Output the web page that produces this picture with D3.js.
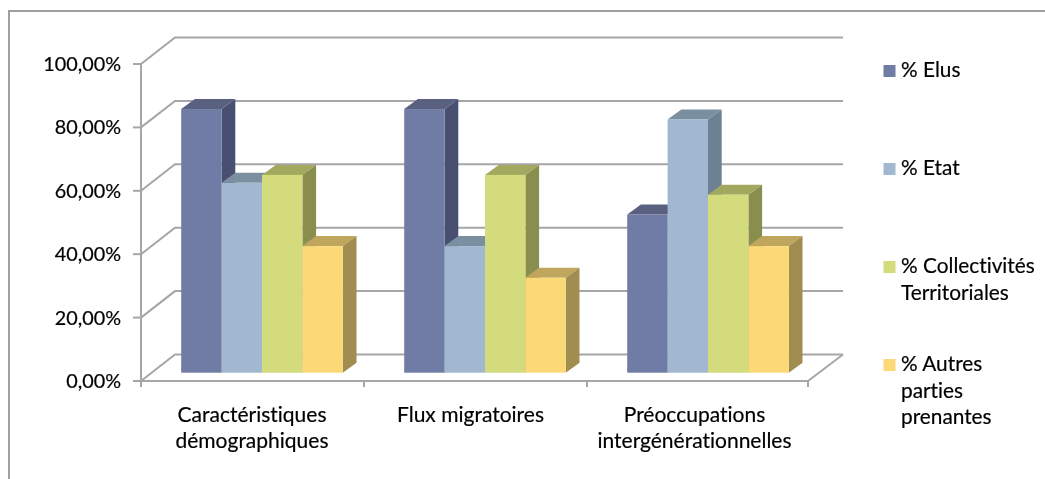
<!DOCTYPE html>
<html><head><meta charset="utf-8">
<script src="https://cdn.jsdelivr.net/npm/d3@7/dist/d3.min.js"></script>
<style>html,body{margin:0;padding:0;background:#fff;overflow:hidden}svg{display:block}text{font-family:Lato,sans-serif;fill:#000;font-variant-ligatures:none;stroke:#000;stroke-width:0.2px}</style>
</head><body><svg id="c" width="1045" height="479"></svg>
<script>
const categories=[["Caractéristiques","démographiques"],["Flux migratoires"],["Préoccupations","intergénérationnelles"]];
const seriesNames=[["% Elus"],["% Etat"],["% Collectivités","Territoriales"],["% Autres","parties","prenantes"]];
const elus=[83.3,83.3,50];
const etat=[60,40,80];
const collectivites=[62.5,62.5,56.25];
const autres=[40,30,40];
const ticks=[0,20,40,60,80,100];
const tickLabels=["0,00%","20,00%","40,00%","60,00%","80,00%","100,00%"];
const seriesValues=[elus,etat,collectivites,autres];
const colors=[
 {front:"#717ba6",top:"#5a6180",side:"#4a5070"},
 {front:"#a1b8d0",top:"#7a8f9f",side:"#6e8194"},
 {front:"#d4db7c",top:"#a3a85f",side:"#898e50"},
 {front:"#fcd977",top:"#bfa65c",side:"#a08d50"}];
const gridColor="#a6a6a6";
const svg=d3.select("#c");
const blur=svg.append("defs").append("filter").attr("id","soft");
blur.append("feGaussianBlur").attr("stdDeviation",0.45);
const root=svg.append("g").attr("filter","url(#soft)");
const wallDx=34,wallDy=-26.5,barDx=13.7,barDy=-10,frontX0=141,frontX1=810;
const y=d3.scaleLinear().domain([0,100]).range([381,64]);
const barY=d3.scaleLinear().domain([0,100]).range([372.7,56.2]);
const x0=d3.scaleBand().domain(d3.range(3)).range([frontX0,frontX0+669]);
const barW=40.4;
const inset=40.2;
// frame
root.append("path").attr("d","M1045,11H9V479").attr("fill","none").attr("stroke","#a0a0a0").attr("stroke-width",2);
const grid=root.append("g").attr("fill","none").attr("stroke",gridColor).attr("stroke-width",2);
ticks.forEach(t=>{
  grid.append("path").attr("d",d3.line()([[frontX0,y(t)],[frontX0+wallDx,y(t)+wallDy],[frontX1+wallDx-1,y(t)+wallDy]]));
  grid.append("line").attr("x1",frontX0-8).attr("x2",frontX0).attr("y1",y(t)).attr("y2",y(t));
});
grid.append("line").attr("x1",frontX0).attr("x2",frontX0).attr("y1",y(100)).attr("y2",y(0)+6);
grid.append("path").attr("d",d3.line()([[frontX0,y(0)],[frontX1-2,y(0)],[frontX1+wallDx-1,y(0)+wallDy]]));
d3.range(1,4).forEach(i=>{
  const tx=i===3?frontX1-2:x0(i);
  grid.append("line").attr("x1",tx).attr("x2",tx).attr("y1",y(0)).attr("y2",y(0)+6);
});
// labels
root.append("g").selectAll("text").data(ticks).join("text")
 .attr("x",121).attr("y",d=>y(d)+7).attr("text-anchor","end").attr("font-size",19.8)
 .text((d,i)=>tickLabels[i]);
// bars
categories.forEach((c,gi)=>{
 seriesValues.forEach((vals,si)=>{
  const v=vals[gi],xl=x0(gi)+inset+si*barW,xr=xl+barW,yt=barY(v),yb=barY(0),col=colors[si];
  const g=root.append("g");
  g.append("path").attr("fill",col.top).attr("d",d3.line()([[xl,yt],[xl+barDx,yt+barDy],[xr+barDx,yt+barDy],[xr,yt]])+"Z");
  g.append("path").attr("fill",col.side).attr("d",d3.line()([[xr,yt],[xr+barDx,yt+barDy],[xr+barDx,yb+barDy],[xr,yb]])+"Z");
  g.append("rect").attr("fill",col.front).attr("x",xl).attr("y",yt).attr("width",barW).attr("height",yb-yt);
 });
});
// category labels
const labelShift=[-0.5,-5,-4];
categories.forEach((lines,i)=>{
 const cx=x0(i)+x0.bandwidth()/2+labelShift[i];
 lines.forEach((l,j)=>root.append("text").attr("x",cx).attr("y",421.5+j*26.5).attr("text-anchor","middle").attr("font-size",21).text(l));
});
// legend
const legY=[65,163,261,359];
const lineStep=26.4;
seriesNames.forEach((lines,i)=>{
 root.append("rect").attr("x",883.5).attr("y",legY[i]).attr("width",12).attr("height",12).attr("fill",colors[i].front);
 lines.forEach((l,j)=>root.append("text").attr("x",901).attr("y",legY[i]+12.3+j*lineStep).attr("font-size",20.8).text(l));
});
</script></body></html>
